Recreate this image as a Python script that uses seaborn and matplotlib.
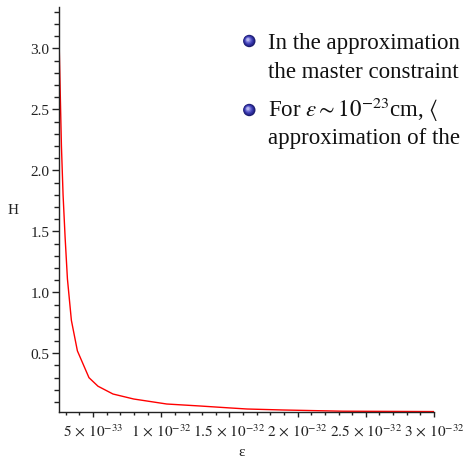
import matplotlib
matplotlib.use("Agg")
import matplotlib.pyplot as plt
from matplotlib.patches import Ellipse
from matplotlib.ticker import FixedLocator, FixedFormatter, MultipleLocator
import seaborn as sns
import pandas as pd

# ---- data (epsilon in units of 1e-33, H dimensionless) ----
eps_e33 = [2.48, 2.52, 2.60, 2.68, 2.80, 2.95, 3.12, 3.41, 3.85, 4.70, 5.36,
           6.46, 7.98, 10.4, 12.8, 15.0, 16.3, 18.9, 23.3, 30.0]
H_vals = [3.30, 3.00, 2.60, 2.20, 1.80, 1.45, 1.11, 0.77, 0.52, 0.30, 0.23,
          0.166, 0.125, 0.084, 0.068, 0.052, 0.043, 0.035, 0.025, 0.022]

xtick_values = [5e-33, 1e-32, 1.5e-32, 2e-32, 2.5e-32, 3e-32]
xtick_labels = [r"$5\,\times\,10^{-33}$", r"$1\,\times\,10^{-32}$", r"$1.5\,\times\,10^{-32}$",
                r"$2\,\times\,10^{-32}$", r"$2.5\,\times\,10^{-32}$", r"$3\,\times\,10^{-32}$"]
ytick_values = [0.5, 1.0, 1.5, 2.0, 2.5, 3.0]
ytick_labels = ["0.5", "1.0", "1.5", "2.0", "2.5", "3.0"]

slide_lines = [
    "In the approximation",
    "the master constraint",
    r"For $\varepsilon\sim10^{-23}$cm, $\langle$",
    "approximation of the",
]

df = pd.DataFrame({"eps": [e * 1e-33 for e in eps_e33], "H": H_vals})

sns.set_style("ticks")
plt.rcParams["font.family"] = ["Liberation Serif", "DejaVu Serif"]
plt.rcParams["mathtext.fontset"] = "stix"

W, Hpx = 463, 460
fig = plt.figure(figsize=(W / 100, Hpx / 100), dpi=100)
ax = fig.add_axes([58.7 / W, 1 - 413.3 / Hpx, (434 - 58.7) / W, (413.3 - 8) / Hpx])

sns.lineplot(data=df, x="eps", y="H", ax=ax, color="#ff0000", linewidth=1.0,
             estimator=None, sort=False)

ax.set_xlim(2.48e-33, 3e-32)
ax.set_ylim(0.016, 3.34)

for s in ["top", "right"]:
    ax.spines[s].set_visible(False)
for s in ["left", "bottom"]:
    ax.spines[s].set_color("#222222")
    ax.spines[s].set_linewidth(1.0)

ax.xaxis.set_major_locator(FixedLocator(xtick_values))
ax.xaxis.set_major_formatter(FixedFormatter(xtick_labels))
ax.xaxis.set_minor_locator(MultipleLocator(1e-33))
ax.yaxis.set_major_locator(FixedLocator(ytick_values))
ax.yaxis.set_major_formatter(FixedFormatter(ytick_labels))
ax.yaxis.set_minor_locator(MultipleLocator(0.1))

ax.tick_params(axis="x", which="major", length=3.5, width=1.0, color="#222222",
               labelsize=11, pad=4, labelcolor="#222222")
ax.tick_params(axis="x", which="minor", length=2.5, width=1.0, color="#222222")
ax.tick_params(axis="y", which="major", length=5, width=1.0, color="#222222",
               labelsize=11, pad=1.5, labelcolor="#222222")
ax.tick_params(axis="y", which="minor", length=3.3, width=1.0, color="#222222")

ax.set_ylabel("H", rotation=0, fontsize=11, color="#222222", ha="center", va="center")
ax.yaxis.set_label_coords((13 - 58.7) / (434 - 58.7), (413.3 - 210) / (413.3 - 8))
ax.set_xlabel("ε", fontsize=11, color="#222222", ha="center", va="center")
ax.xaxis.set_label_coords((242 - 58.7) / (434 - 58.7), (413.3 - 453) / (413.3 - 8))

# ---- slide overlay text and bullets ----
baselines = [49, 78, 116.5, 144]
for txt, yb in zip(slide_lines, baselines):
    fig.text(268 / W, 1 - yb / Hpx, txt, fontsize=16.5, color="#111111",
             ha="left", va="baseline")

bullet_y = [42, 111]
shades = ["#1c1c70", "#2a2a95", "#3c3cb0", "#5a5ac8", "#8585dd", "#b5b5ee"]
for by in bullet_y:
    for i, c in enumerate(shades):
        r = 6.2 * (1 - i * 0.15)
        off = 1.6 * i / len(shades)
        cx = 249.3 - off
        cy = by - off
        fig.add_artist(Ellipse((cx / W, 1 - cy / Hpx), 2 * r / W, 2 * r / Hpx,
                               transform=fig.transFigure, color=c, lw=0))

fig.savefig("out.png", dpi=100)
